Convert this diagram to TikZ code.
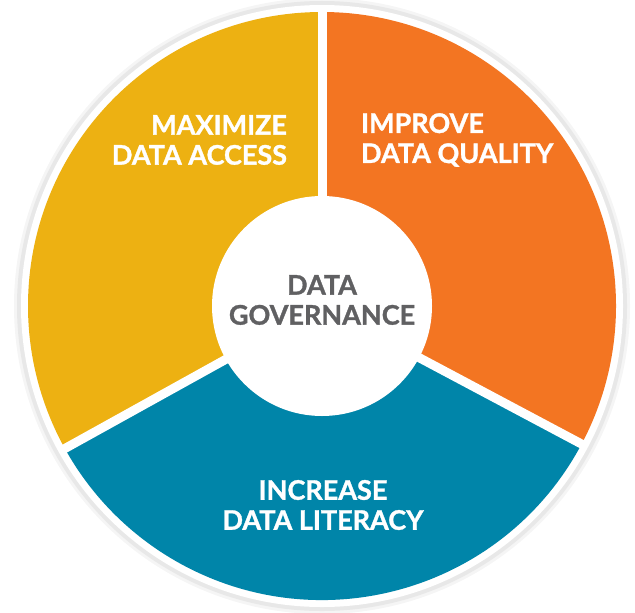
\documentclass[tikz,border=0pt]{standalone}
\usepackage{fontspec}
\setmainfont{Lato}[BoldFeatures={FakeBold=1.2}]
\definecolor{govyellow}{HTML}{EDB112}
\definecolor{govorange}{HTML}{F37522}
\definecolor{govblue}{HTML}{0085A9}
\definecolor{govgray}{HTML}{606062}
\tikzset{
  sector/.style = {draw=white, line width=4.5pt, line join=round},
  label/.style  = {text=white, font=\fontsize{13.5}{15}\selectfont\bfseries},
  hub/.style    = {text=govgray, font=\fontsize{13.5}{15}\selectfont\bfseries, align=center}
}

\begin{document}
\begin{tikzpicture}[x=0.5pt,y=0.5pt]
  \useasboundingbox (0,0) rectangle (635,612);
  \coordinate (c) at (322,306);
  % rim with soft shadow
  \fill[black!4]  (c) circle[radius=308];
  \fill[black!9]  (c) circle[radius=305];
  \fill[white]    (c) circle[radius=301];
  % the three parts
  \fill[govyellow] (c) -- ++(90:294) arc[start angle=90, end angle=209, radius=294] -- cycle;
  \fill[govorange] (c) -- ++(90:294) arc[start angle=90, end angle=-28, radius=294] -- cycle;
  \fill[govblue]   (c) -- ++(-28:294) arc[start angle=-28, end angle=-151, radius=294] -- cycle;
  \foreach \a in {90,-28,209}
    \draw[sector] (c) -- ++(\a:300);
  % hub
  \node[circle, fill=white, minimum size=110pt] (hub) at (c) {};
  \node[hub] (gov) at (322,312) {DATA\\GOVERNANCE};
  %
  \node[label, anchor=east, align=right] (access)   at (294,472) {MAXIMIZE\\DATA ACCESS};
  \node[label, anchor=west, align=left]  (quality)  at (354,472) {IMPROVE\\DATA QUALITY};
  \node[label, align=center]             (literacy) at (323,107) {INCREASE\\DATA LITERACY};
\end{tikzpicture}
\end{document}
